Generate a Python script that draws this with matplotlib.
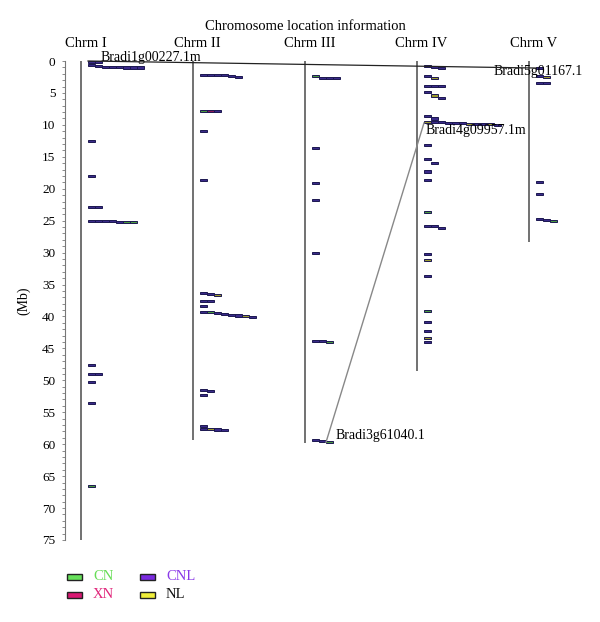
import matplotlib
matplotlib.use("Agg")
import matplotlib.pyplot as plt
from matplotlib.patches import Rectangle

plt.rcParams['font.family'] = ['Liberation Serif', 'DejaVu Serif']

# ---------------- data ----------------
chrom_names = ["Chrm I", "Chrm II", "Chrm III", "Chrm IV", "Chrm V"]
chrom_lengths = [75.0, 59.3, 59.8, 48.6, 28.3]

# gene clusters per chromosome: each cluster is a list of (position Mb, class)
chrm1_clusters = [
    [(0.10, "CNL"), (0.12, "CNL")],
    [(0.70, "CNL"), (0.72, "CNL"), (0.88, "CNL"), (0.90, "CNL"),
     (1.00, "CNL"), (1.02, "CNL"), (1.02, "CNL"), (1.02, "CNL")],
    [(12.6, "CNL")],
    [(18.0, "CNL")],
    [(22.9, "CNL"), (22.9, "CNL")],
    [(25.0, "CNL"), (25.0, "CNL"), (25.0, "CNL"), (25.05, "CNL"),
     (25.15, "CNL"), (25.25, "CN"), (25.25, "CN")],
    [(47.6, "CNL")],
    [(49.0, "CNL"), (49.0, "CNL")],
    [(50.2, "CNL")],
    [(53.5, "CNL")],
    [(66.5, "CN")],
]
chrm2_clusters = [
    [(2.2, "CNL"), (2.2, "CNL"), (2.2, "CNL"), (2.25, "CNL"),
     (2.35, "CNL"), (2.5, "CNL")],
    [(7.8, "CN"), (7.8, "XN"), (7.85, "CNL")],
    [(10.95, "CNL")],
    [(18.6, "CNL")],
    [(36.3, "CNL"), (36.5, "CNL"), (36.7, "NL")],
    [(37.6, "CNL"), (37.6, "CNL")],
    [(38.4, "CNL")],
    [(39.3, "CNL"), (39.35, "CN"), (39.45, "CNL"), (39.55, "CNL"),
     (39.75, "CNL"), (39.85, "CNL"), (39.95, "NL"), (40.05, "CNL")],
    [(51.5, "CNL"), (51.6, "CNL")],
    [(52.3, "CNL")],
    [(57.2, "CNL")],
    [(57.6, "CNL"), (57.65, "NL"), (57.7, "CNL"), (57.85, "CNL")],
]
chrm3_clusters = [
    [(2.4, "CN"), (2.6, "CNL"), (2.6, "CNL"), (2.6, "CNL")],
    [(13.6, "CNL")],
    [(19.1, "CNL")],
    [(21.8, "CNL")],
    [(30.0, "CNL")],
    [(43.8, "CNL"), (43.85, "CNL"), (43.95, "CN")],
    [(59.4, "CNL"), (59.45, "CNL"), (59.7, "CN")],
]
chrm4_clusters = [
    [(0.8, "CNL"), (1.0, "CNL"), (1.05, "CNL")],
    [(2.3, "CNL"), (2.7, "NL")],
    [(3.9, "CNL"), (3.9, "CNL"), (3.9, "CNL")],
    [(4.9, "CNL"), (5.4, "NL"), (5.8, "CNL")],
    [(8.6, "CNL"), (9.0, "CNL")],
    [(9.5, "NL"), (9.55, "CNL"), (9.6, "CNL"), (9.65, "CNL"), (9.7, "CNL"),
     (9.75, "CNL"), (9.8, "NL"), (9.85, "CNL"), (9.85, "CNL"), (9.9, "NL"),
     (9.95, "CNL")],
    [(13.1, "CNL")],
    [(15.4, "CNL"), (15.9, "CNL")],
    [(17.3, "CNL")],
    [(18.6, "CNL")],
    [(23.7, "CN")],
    [(25.8, "CNL"), (25.85, "CNL"), (26.1, "CNL")],
    [(30.2, "CNL")],
    [(31.2, "NL")],
    [(33.6, "CNL")],
    [(39.2, "CN")],
    [(40.9, "CNL")],
    [(42.3, "CNL")],
    [(43.3, "NL")],
    [(44.0, "CNL")],
]
chrm5_clusters = [
    [(1.1, "CNL")],
    [(2.4, "CNL"), (2.5, "NL")],
    [(3.4, "CNL"), (3.5, "CNL")],
    [(19.0, "CNL")],
    [(20.8, "CNL")],
    [(24.7, "CNL"), (24.9, "CNL"), (25.1, "CN")],
]
all_clusters = [chrm1_clusters, chrm2_clusters, chrm3_clusters,
                chrm4_clusters, chrm5_clusters]

# linked gene pairs: (label, chrom index, cluster, member)
links = [
    (("Bradi1g00227.1m", 0, 0, 0), ("Bradi5g01167.1", 4, 0, 0)),
    (("Bradi3g61040.1", 2, 6, 2), ("Bradi4g09957.1m", 3, 5, 0)),
]

class_names = ["CN", "XN", "CNL", "NL"]
class_fill = {"CN": "#66e05a", "XN": "#d81872", "CNL": "#7a2ae0", "NL": "#f0ee3a"}
bar_fill = {"CN": "#4a9a40", "XN": "#8a1858", "CNL": "#3a2a8a", "NL": "#9a9a30"}
class_text = {"CN": "#66dd55", "XN": "#e0257a", "CNL": "#8a3ae8", "NL": "#111111"}

# ---------------- drawing ----------------
W, H = 600, 622
fig = plt.figure(figsize=(W / 100, H / 100), dpi=100)
px_left, px_right = 65, 600
px_top, px_bot = 61, 540
ax = fig.add_axes([px_left / W, (H - px_bot) / H,
                   (px_right - px_left) / W, (px_bot - px_top) / H])
unit = 112.0  # pixels between chromosomes
ax.set_xlim(1 - (81 - px_left) / unit, 1 + (px_right - 81) / unit)
ax.set_ylim(75, 0)

chrom_x = [i + 1 for i in range(len(chrom_names))]
bar_w = 7 / unit
bar_gap = 7 / unit
bar_h = 0.32

for cx, name, length in zip(chrom_x, chrom_names, chrom_lengths):
    ax.plot([cx, cx], [0, length], color="#666666", lw=1.3, solid_capstyle="butt")
    ax.text(cx + 0.04, -1.75, name, ha="center", va="bottom", fontsize=10.5,
            clip_on=False)

def gene_xy(ci, k, m):
    pos, _ = all_clusters[ci][k][m]
    return chrom_x[ci] + bar_gap + m * bar_w, pos

for ci, clusters in enumerate(all_clusters):
    for k, cl in enumerate(clusters):
        for m, (pos, cls) in enumerate(cl):
            x0, y0 = gene_xy(ci, k, m)
            ax.add_patch(Rectangle((x0, y0 - bar_h / 2), bar_w, bar_h,
                                   facecolor=bar_fill[cls], edgecolor="#1c1850",
                                   lw=0.7, zorder=3, clip_on=False))

# links
(l1a, l1b), (l2a, l2b) = links
xa, ya = gene_xy(*l1a[1:])
xb, yb = gene_xy(*l1b[1:])
ax.plot([xa, xb], [ya - 0.1, yb], color="#222222", lw=0.9, zorder=4, clip_on=False)
ax.text(xa + 0.11, ya + 0.35, l1a[0], ha="left", va="bottom", fontsize=10, clip_on=False)
ax.text(xb + 0.02, yb + 0.5, l1b[0], ha="center", va="center", fontsize=10, clip_on=False)

xa, ya = gene_xy(*l2a[1:])
xb, yb = gene_xy(*l2b[1:])
ax.plot([xa, xb], [ya, yb + 0.2], color="#888888", lw=1.0, zorder=4)
ax.text(xa + bar_w + 0.02, ya - 1.0, l2a[0], ha="left", va="center", fontsize=10)
ax.text(xb + 0.01, yb + 1.4, l2b[0], ha="left", va="center", fontsize=10)

# axis styling
for s in ["top", "right", "bottom"]:
    ax.spines[s].set_visible(False)
ax.spines["left"].set_color("#777777")
ax.spines["left"].set_linewidth(0.8)
ax.set_xticks([])
ax.set_yticks(range(0, 76, 5))
ax.set_yticks(range(0, 76, 1), minor=True)
ax.tick_params(axis="y", which="both", length=2, width=0.6, color="#777777",
               labelsize=9.5, pad=5)
ax.set_ylabel("(Mb)", fontsize=10, labelpad=8)

fig.text(305 / W, 1 - 27 / H, "Chromosome location information",
         ha="center", va="center", fontsize=10.5)

# legend
leg_pos = {"CN": (67, 577), "CNL": (140, 577), "XN": (67, 595), "NL": (140, 595)}
for cls in class_names:
    lx, ly = leg_pos[cls]
    fig.patches.append(Rectangle((lx / W, 1 - (ly + 3) / H), 15 / W, 6 / H,
                                 transform=fig.transFigure, facecolor=class_fill[cls],
                                 edgecolor="#222222", lw=1.0))
    fig.text((lx + 26) / W, 1 - ly / H, cls, color=class_text[cls],
             ha="left", va="center", fontsize=10.5)

fig.savefig("out.png", dpi=100)
